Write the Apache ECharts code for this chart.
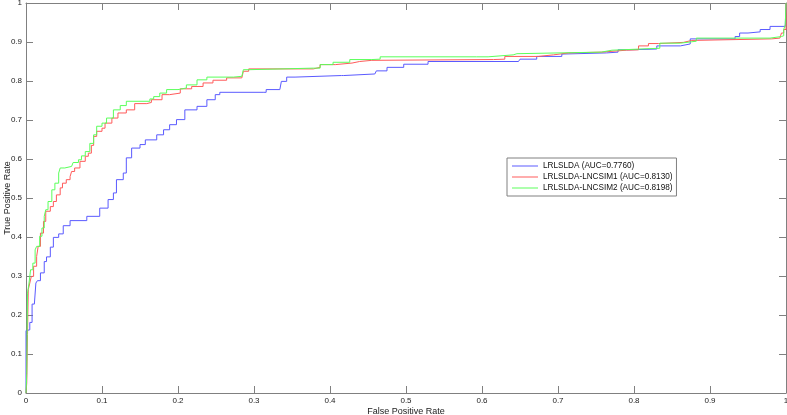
<!DOCTYPE html>
<html>
<head>
    <meta charset="utf-8">
    <title>ROC</title>
    <script src="https://cdn.jsdelivr.net/npm/echarts@6/dist/echarts.min.js"></script>
</head>
<body style="margin:0;background:#fff">
    <div id="main" style="width: 787px;height:415px;"></div>
    <script type="text/javascript">
        // [FPR, TPR] points
        var blueRoc = [[0,0],[0,0.160],[0.002,0.162],[0.005,0.181],[0.008,0.228],[0.011,0.228],[0.013,0.282],[0.015,0.288],[0.019,0.308],[0.024,0.337],[0.027,0.349],[0.032,0.374],[0.036,0.399],[0.043,0.408],[0.049,0.429],[0.058,0.442],[0.080,0.453],[0.097,0.474],[0.108,0.496],[0.115,0.513],[0.119,0.547],[0.128,0.564],[0.132,0.603],[0.139,0.628],[0.150,0.637],[0.157,0.649],[0.172,0.662],[0.181,0.675],[0.189,0.688],[0.198,0.701],[0.209,0.726],[0.225,0.735],[0.238,0.752],[0.249,0.765],[0.255,0.771],[0.312,0.771],[0.316,0.778],[0.334,0.779],[0.336,0.799],[0.343,0.810],[0.354,0.814],[0.415,0.814],[0.418,0.818],[0.459,0.822],[0.461,0.826],[0.475,0.835],[0.497,0.843],[0.529,0.850],[0.648,0.850],[0.650,0.856],[0.672,0.863],[0.705,0.869],[0.707,0.872],[0.764,0.874],[0.779,0.880],[0.793,0.882],[0.830,0.890],[0.861,0.895],[0.874,0.908],[0.933,0.914],[0.939,0.923],[0.950,0.926],[0.966,0.932],[0.979,0.940],[0.999,0.942],[1,1]];
        var redRoc = [[0,0],[0.001,0.026],[0.002,0.150],[0.003,0.265],[0.005,0.282],[0.007,0.299],[0.010,0.325],[0.014,0.350],[0.016,0.376],[0.019,0.410],[0.023,0.440],[0.026,0.466],[0.032,0.478],[0.036,0.491],[0.040,0.508],[0.045,0.526],[0.048,0.538],[0.053,0.547],[0.058,0.555],[0.060,0.568],[0.064,0.577],[0.071,0.594],[0.078,0.607],[0.082,0.615],[0.086,0.635],[0.089,0.658],[0.093,0.671],[0.100,0.679],[0.104,0.692],[0.113,0.705],[0.121,0.718],[0.132,0.726],[0.143,0.742],[0.159,0.745],[0.165,0.752],[0.179,0.765],[0.189,0.769],[0.203,0.780],[0.218,0.786],[0.233,0.795],[0.246,0.802],[0.264,0.808],[0.284,0.812],[0.286,0.825],[0.293,0.831],[0.378,0.835],[0.387,0.842],[0.407,0.846],[0.429,0.850],[0.439,0.853],[0.455,0.855],[0.615,0.856],[0.630,0.863],[0.674,0.867],[0.694,0.872],[0.714,0.874],[0.757,0.879],[0.790,0.880],[0.806,0.890],[0.819,0.896],[0.832,0.899],[0.865,0.904],[0.876,0.908],[0.981,0.910],[0.992,0.913],[0.994,0.923],[0.997,0.932],[1,1]];
        var greenRoc = [[0,0],[0.001,0.050],[0.002,0.256],[0.004,0.282],[0.006,0.316],[0.009,0.333],[0.012,0.367],[0.014,0.376],[0.018,0.402],[0.021,0.423],[0.024,0.453],[0.026,0.470],[0.029,0.491],[0.034,0.521],[0.038,0.538],[0.043,0.564],[0.045,0.577],[0.051,0.581],[0.060,0.583],[0.062,0.591],[0.069,0.598],[0.073,0.608],[0.078,0.619],[0.084,0.640],[0.089,0.662],[0.093,0.684],[0.100,0.692],[0.106,0.705],[0.115,0.726],[0.124,0.737],[0.132,0.748],[0.163,0.754],[0.168,0.760],[0.176,0.769],[0.185,0.778],[0.200,0.782],[0.211,0.790],[0.225,0.803],[0.238,0.810],[0.273,0.812],[0.284,0.816],[0.286,0.829],[0.293,0.833],[0.378,0.833],[0.387,0.842],[0.404,0.848],[0.426,0.855],[0.455,0.856],[0.466,0.862],[0.593,0.862],[0.608,0.867],[0.641,0.870],[0.646,0.874],[0.757,0.879],[0.771,0.883],[0.821,0.884],[0.834,0.897],[0.861,0.902],[0.882,0.910],[0.979,0.910],[0.981,0.914],[0.994,0.916],[0.997,0.932],[0.999,0.944],[1,1]];

        var seriesNames = ['LRLSLDA (AUC=0.7760)', 'LRLSLDA-LNCSIM1 (AUC=0.8130)', 'LRLSLDA-LNCSIM2 (AUC=0.8198)'];
        var seriesData = [blueRoc, redRoc, greenRoc];
        var colors = ['#5a5aff', '#ff5a5a', '#5aff5a'];

        var axisGray = '#808080';
        var font = 'Liberation Sans, Arial, sans-serif';

        function mkAxis(pos, showLabel, name) {
            return {
                type: 'value',
                position: pos,
                min: 0,
                max: 1,
                interval: 0.1,
                name: name || '',
                nameLocation: 'middle',
                nameGap: 14,
                nameMoveOverlap: false,
                nameTextStyle: { fontFamily: font, fontSize: 9, color: '#222' },
                axisLine: { show: true, onZero: false, lineStyle: { color: axisGray, width: 1 } },
                axisTick: { show: true, inside: true, length: 7, lineStyle: { color: axisGray } },
                axisLabel: {
                    show: showLabel,
                    margin: 4,
                    fontFamily: font,
                    fontSize: 8,
                    color: '#222',
                    showMinLabel: true,
                    showMaxLabel: true
                },
                splitLine: { show: false }
            };
        }

        var series = [];
        for (var i = 0; i < seriesData.length; i++) {
            series.push({
                name: seriesNames[i],
                type: 'line',
                step: 'end',
                showSymbol: false,
                symbol: 'none',
                xAxisIndex: 0,
                yAxisIndex: 0,
                lineStyle: { color: colors[i], width: 1 },
                itemStyle: { color: colors[i] },
                data: seriesData[i]
            });
        }

        var option = {
            animation: false,
            backgroundColor: '#fff',
            grid: { left: 26, right: 1, top: 3, bottom: 22, containLabel: false, outerBoundsMode: 'none' },
            legend: {
                orient: 'vertical',
                left: 507,
                top: 158,
                backgroundColor: '#fff',
                borderColor: axisGray,
                borderWidth: 1,
                padding: [4, 4, 4, 5],
                itemGap: 3,
                itemWidth: 26,
                itemHeight: 1,
                itemTextGap: 3,
                icon: 'rect',
                textStyle: { fontFamily: font, fontSize: 8.2, color: '#111' },
                data: seriesNames
            },
            xAxis: [mkAxis('bottom', true, 'False Positive Rate'), mkAxis('top', false)],
            yAxis: [mkAxis('left', true, 'True Positive Rate'), mkAxis('right', false)],
            series: series
        };

        var myChart = echarts.init(document.getElementById('main'));
        myChart.setOption(option);
    </script>
</body>
</html>
